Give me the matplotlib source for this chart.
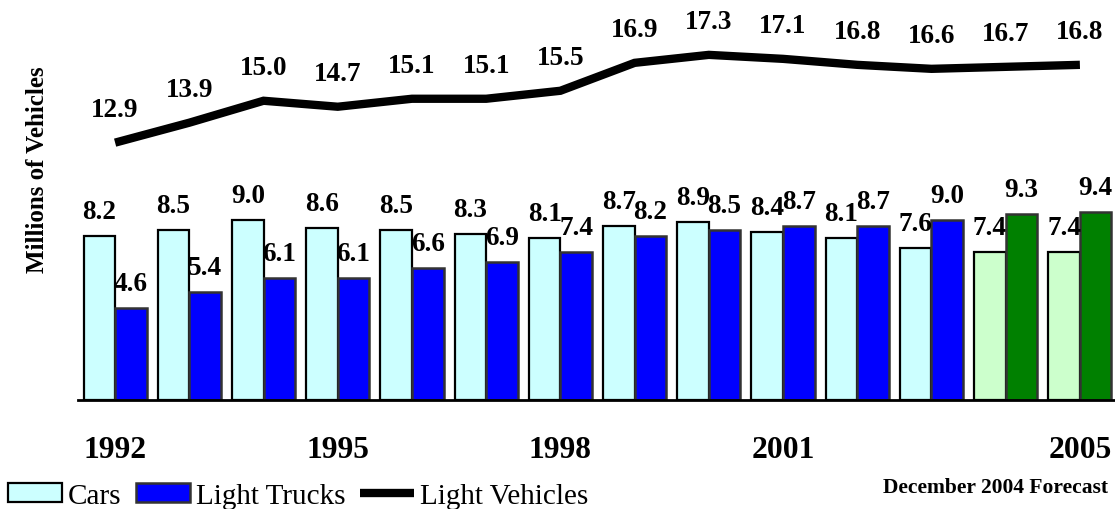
import matplotlib
matplotlib.use("Agg")
import matplotlib.pyplot as plt
from matplotlib.patches import Patch
from matplotlib.lines import Line2D
import numpy as np

plt.rcParams['font.family'] = ['Liberation Serif', 'DejaVu Serif']

years = list(range(1992, 2006))
cars = [8.2, 8.5, 9.0, 8.6, 8.5, 8.3, 8.1, 8.7, 8.9, 8.4, 8.1, 7.6, 7.4, 7.4]
trucks = [4.6, 5.4, 6.1, 6.1, 6.6, 6.9, 7.4, 8.2, 8.5, 8.7, 8.7, 9.0, 9.3, 9.4]
light_vehicles = [12.9, 13.9, 15.0, 14.7, 15.1, 15.1, 15.5, 16.9, 17.3, 17.1, 16.8, 16.6, 16.7, 16.8]
forecast_years = [2004, 2005]
shown_years = [1992, 1995, 1998, 2001, 2005]

car_color, car_fc_color = '#CCFFFF', '#CCFFCC'
truck_color, truck_fc_color = '#0000FF', '#008000'

fig = plt.figure(figsize=(11.15, 5.10), dpi=100)
ax = fig.add_axes([78 / 1115, 109 / 510, 1039 / 1115, 399 / 510])

x = np.arange(len(years))
w = 0.425
is_fc = [y in forecast_years for y in years]
car_cols = [car_fc_color if f else car_color for f in is_fc]
truck_cols = [truck_fc_color if f else truck_color for f in is_fc]

ax.bar(x - w / 2, cars, w, color=car_cols, edgecolor='black', linewidth=1.6, zorder=2)
ax.bar(x + w / 2, trucks, w, color=truck_cols, edgecolor='#333333', linewidth=1.8, zorder=2)
ax.plot(x, light_vehicles, color='black', lw=6, solid_capstyle='butt',
        solid_joinstyle='miter', zorder=3)

lab = dict(ha='center', va='baseline', fontsize=19.5, fontweight='bold',
           textcoords='offset points')
for i in range(len(years)):
    ax.annotate(f"{cars[i]:.1f}", (x[i] - w / 2, cars[i]), xytext=(0, 13), **lab)
    ax.annotate(f"{trucks[i]:.1f}", (x[i] + w / 2, trucks[i]), xytext=(0, 13), **lab)
    ax.annotate(f"{light_vehicles[i]:.1f}", (x[i], light_vehicles[i]), xytext=(0, 19), **lab)

ax.set_xlim(-0.5, len(years) - 0.5)
ax.set_ylim(0, 20)
ax.set_yticks([])
ax.set_xticks([years.index(y) for y in shown_years])
ax.set_xticklabels([str(y) for y in shown_years], fontsize=22.7, fontweight='bold')
ax.tick_params(axis='x', length=0, pad=25)
for s in ['left', 'right', 'top']:
    ax.spines[s].set_visible(False)
ax.spines['bottom'].set_linewidth(2)
ax.spines['bottom'].set_zorder(4)

fig.text(38 / 1115, 1 - 170 / 510, 'Millions of Vehicles', rotation=90,
         ha='center', va='center', fontsize=18, fontweight='bold')

handles = [Patch(facecolor=car_color, edgecolor='black', linewidth=1.6),
           Patch(facecolor=truck_color, edgecolor='#333333', linewidth=1.8),
           Line2D([], [], color='black', lw=6, solid_capstyle='butt')]
fig.legend(handles, ['Cars', 'Light Trucks', 'Light Vehicles'], loc='lower left',
           bbox_to_anchor=(8 / 1115, 0), ncol=3, frameon=False, fontsize=21,
           handlelength=1.85, handletextpad=0.2, columnspacing=0.5,
           borderpad=0, borderaxespad=0, handleheight=0.6)

fig.text(1108 / 1115, 1 - 488 / 510, 'December 2004 Forecast', ha='right',
         va='center', fontsize=15.5, fontweight='bold')

fig.savefig('out.png', dpi=100)
